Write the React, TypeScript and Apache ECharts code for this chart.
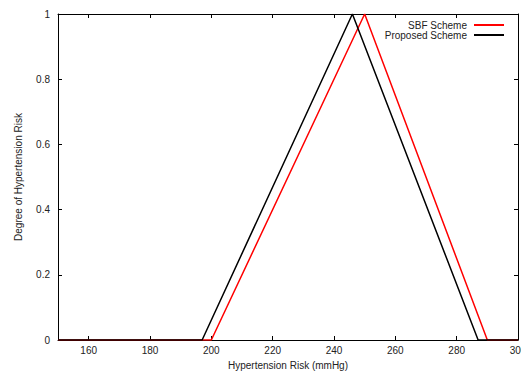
import React, { useEffect, useRef } from "react";
import * as echarts from "echarts";

const sbfX = [150, 200, 250, 290, 300];
const sbfY = [0, 0, 1, 0, 0];
const propX = [150, 197, 246, 287, 300];
const propY = [0, 0, 1, 0, 0];
const xTicks = [160, 180, 200, 220, 240, 260, 280, 300];
const seriesNames = ["SBF Scheme", "Proposed Scheme"];

export default function App() {
  const ref = useRef<HTMLDivElement>(null);
  useEffect(() => {
    document.body.style.margin = "0";
    const chart = echarts.init(ref.current!, null, { renderer: "svg" });
    const font = "Liberation Sans";
    const txt = "#222";
    const axisLine = { show: true, onZero: false, lineStyle: { color: "#000", width: 1 } };
    chart.setOption({
      animation: false,
      textStyle: { fontFamily: font },
      grid: { left: 58, right: 3, top: 14, bottom: 35, containLabel: false, outerBoundsMode: "none" },
      legend: {
        orient: "vertical",
        right: 12,
        top: 15,
        align: "right",
        itemGap: 0,
        itemWidth: 30,
        itemHeight: 2,
        icon: "rect",
        textStyle: { fontFamily: font, fontSize: 10, color: txt, padding: [0, 2, 0, 0] },
        data: seriesNames,
      },
      xAxis: [
        {
          type: "value",
          min: 150,
          max: 300,
          position: "bottom",
          name: "Hypertension Risk (mmHg)",
          nameLocation: "middle",
          nameGap: 20,
          nameTextStyle: { fontFamily: font, fontSize: 10, color: txt },
          axisLine,
          splitLine: { show: false },
          axisTick: { show: true, inside: true, length: 4, customValues: xTicks, lineStyle: { color: "#000" } },
          axisLabel: { show: true, customValues: xTicks, margin: 5, fontFamily: font, fontSize: 10, color: txt },
        },
        {
          type: "value",
          min: 150,
          max: 300,
          position: "top",
          axisLine,
          splitLine: { show: false },
          axisTick: { show: true, inside: true, length: 4, customValues: xTicks, lineStyle: { color: "#000" } },
          axisLabel: { show: false },
        },
      ],
      yAxis: [
        {
          type: "value",
          min: 0,
          max: 1,
          interval: 0.2,
          position: "left",
          name: "Degree of Hypertension Risk",
          nameLocation: "middle",
          nameGap: 35,
          nameTextStyle: { fontFamily: font, fontSize: 10, color: txt },
          axisLine,
          splitLine: { show: false },
          axisTick: { show: true, inside: true, length: 4, lineStyle: { color: "#000" } },
          axisLabel: { margin: 8, fontFamily: font, fontSize: 10, color: txt },
        },
        {
          type: "value",
          min: 0,
          max: 1,
          interval: 0.2,
          position: "right",
          axisLine,
          splitLine: { show: false },
          axisTick: { show: true, inside: true, length: 4, lineStyle: { color: "#000" } },
          axisLabel: { show: false },
        },
      ],
      series: [
        {
          name: seriesNames[0],
          type: "line",
          data: sbfX.map((x, i) => [x, sbfY[i]]),
          showSymbol: false,
          symbol: "none",
          lineStyle: { color: "#ff0000", width: 1.5 },
          itemStyle: { color: "#ff0000" },
        },
        {
          name: seriesNames[1],
          type: "line",
          data: propX.map((x, i) => [x, propY[i]]),
          showSymbol: false,
          symbol: "none",
          lineStyle: { color: "#000000", width: 1.5 },
          itemStyle: { color: "#000000" },
        },
      ],
    });
    return () => chart.dispose();
  }, []);
  return <div ref={ref} style={{ width: 521, height: 375 }} />;
}
